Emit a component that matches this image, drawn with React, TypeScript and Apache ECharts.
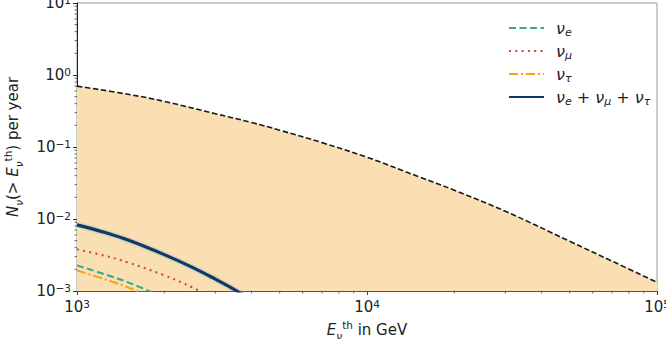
import React, { useEffect, useRef } from "react";
import * as echarts from "echarts";

// ---- data ----
const E_UPPER = [1000, 1500, 2000, 3000, 4000, 5000, 7000, 10000, 15000, 20000, 30000, 50000, 70000, 100000];
const N_UPPER = [0.70, 0.54, 0.43, 0.29, 0.219, 0.171, 0.115, 0.072, 0.039, 0.0251, 0.0128, 0.0049, 0.0026, 0.00132];

const E_NUE = [1000, 1250, 1500, 2000];
const N_NUE = [0.00227, 0.0017, 0.00132, 0.00081];

const E_NUMU = [1000, 1250, 1500, 2000, 2500, 3000];
const N_NUMU = [0.0038, 0.00308, 0.00249, 0.00165, 0.00112, 0.00078];

const E_NUTAU = [1000, 1250, 1500, 2000];
const N_NUTAU = [0.00193, 0.00145, 0.00112, 0.00072];

const E_SUM = [1000, 1250, 1500, 2000, 2500, 3000, 3500, 4000];
const N_SUM = [0.0083, 0.0065, 0.0051, 0.0032, 0.00213, 0.00146, 0.00104, 0.00075];

const SERIES_NAMES = ["νe", "νμ", "ντ", "νe + νμ + ντ"];
const LEGEND_RICH: Record<string, string> = {
  "νe": "{g|ν}{s|e}",
  "νμ": "{g|ν}{s|μ}",
  "ντ": "{g|ν}{s|τ}",
  "νe + νμ + ντ": "{g|ν}{s|e}{p| + }{g|ν}{s|μ}{p| + }{g|ν}{s|τ}",
};

const X_MIN = 1000;
const X_MAX = 100000;
const Y_MIN = 0.001;
const Y_MAX = 10;
const X_MINOR = [2, 3, 4, 5, 6, 7, 8, 9, 20, 30, 40, 50, 60, 70, 80, 90].map((m) => m * 1000);
const Y_MINOR: number[] = [];
[0.001, 0.01, 0.1, 1].forEach((d) => {
  for (let m = 2; m <= 9; m++) Y_MINOR.push(+(m * d).toPrecision(3));
});

const FONT = "DejaVu Sans";

const pairs = (xs: number[], ys: number[]) => xs.map((x, i) => [x, ys[i]]);

const expLabel = (v: number) => {
  const e = Math.round(Math.log10(v));
  return `{b|10}{e|${e < 0 ? "\u2212" + -e : e}}`;
};

const tickRich = {
  b: { fontSize: 15, fontFamily: FONT, color: "#222", lineHeight: 18, verticalAlign: "middle" },
  e: { fontSize: 10.5, fontFamily: FONT, color: "#222", lineHeight: 10, verticalAlign: "top" },
};

const mathRich = {
  i: { fontSize: 15, fontFamily: FONT, fontStyle: "italic", color: "#222", lineHeight: 22, verticalAlign: "middle" },
  r: { fontSize: 15, fontFamily: FONT, color: "#222", lineHeight: 22, verticalAlign: "middle" },
  s: { fontSize: 10.5, fontFamily: FONT, fontStyle: "italic", color: "#222", lineHeight: 11, verticalAlign: "bottom" },
  t: { fontSize: 10.5, fontFamily: FONT, color: "#222", lineHeight: 11, verticalAlign: "top" },
};

const lineSeries = (name: string, xs: number[], ys: number[], color: string, lineStyle: any, z: number) => ({
  name,
  type: "line",
  data: pairs(xs, ys),
  smooth: 0.4,
  symbol: "none",
  itemStyle: { color },
  lineStyle: { color, ...lineStyle },
  z,
});

export default function App() {
  const ref = useRef<HTMLDivElement>(null);

  useEffect(() => {
    if (!ref.current) return;
    const chart = echarts.init(ref.current, undefined, { renderer: "svg" });

    const tickSeries = (data: number[][], dir: "x" | "y") => ({
      type: "custom",
      silent: true,
      clip: false,
      z: 10,
      data,
      renderItem: (_p: any, api: any) => {
        const pt = api.coord([api.value(0), api.value(1)]);
        const shape =
          dir === "x"
            ? { x1: pt[0], y1: pt[1], x2: pt[0], y2: pt[1] + 2.5 }
            : { x1: pt[0], y1: pt[1], x2: pt[0] - 2.5, y2: pt[1] };
        return { type: "line", shape, style: { stroke: "#444", lineWidth: 0.8 } };
      },
    });

    chart.setOption({
      animation: false,
      backgroundColor: "#fff",
      textStyle: { fontFamily: FONT },
      grid: {
        left: 77,
        top: 3,
        width: 580,
        height: 288,
        containLabel: false,
        outerBoundsMode: "none",
        show: true,
        borderColor: "#999",
        borderWidth: 1,
        backgroundColor: "transparent",
      },
      legend: {
        data: SERIES_NAMES,
        orient: "vertical",
        left: 503,
        top: 15,
        itemWidth: 35,
        itemHeight: 14,
        itemGap: 5,
        itemStyle: { opacity: 0 },
        formatter: (n: string) => LEGEND_RICH[n] || n,
        textStyle: {
          padding: [0, 0, 0, 7],
          rich: {
            g: { fontSize: 16, fontFamily: FONT, fontStyle: "italic", color: "#222", lineHeight: 20, verticalAlign: "middle" },
            s: { fontSize: 11, fontFamily: FONT, fontStyle: "italic", color: "#222", lineHeight: 11, verticalAlign: "bottom" },
            p: { fontSize: 16, fontFamily: FONT, color: "#222", lineHeight: 20, verticalAlign: "middle" },
          },
        },
      },
      xAxis: {
        type: "log",
        logBase: 10,
        min: X_MIN,
        max: X_MAX,
        interval: 1,
        splitLine: { show: false },
        axisLine: { show: true, lineStyle: { color: "#555", width: 1 } },
        axisTick: { show: true, inside: false, length: 4, lineStyle: { color: "#444" } },
        axisLabel: {
          formatter: expLabel,
          margin: 7,
          showMinLabel: true,
          showMaxLabel: true,
          hideOverlap: false,
          rich: tickRich,
        },
        name: "{i|E}{s|ν}{t|th}{r| in GeV}",
        nameLocation: "middle",
        nameGap: 25,
        nameTextStyle: { rich: mathRich },
      },
      yAxis: {
        type: "log",
        logBase: 10,
        min: Y_MIN,
        max: Y_MAX,
        interval: 1,
        splitLine: { show: false },
        axisLine: { show: true, lineStyle: { color: "#222", width: 1 } },
        axisTick: { show: true, inside: false, length: 4, lineStyle: { color: "#333" } },
        axisLabel: {
          formatter: expLabel,
          margin: 6,
          showMinLabel: true,
          showMaxLabel: true,
          hideOverlap: false,
          rich: tickRich,
        },
        name: "{i|N}{s|ν}{r|(> }{i|E}{s|ν}{t|th}{r|) per year}",
        nameLocation: "middle",
        nameGap: 53,
        nameTextStyle: { rich: mathRich },
      },
      series: [
        {
          name: "upper",
          type: "line",
          data: pairs(E_UPPER, N_UPPER),
          smooth: 0.4,
          symbol: "none",
          itemStyle: { color: "#1a1a1a" },
          lineStyle: { color: "#1a1a1a", width: 1.6, type: [5.5, 2.6] },
          areaStyle: { color: "#f9dfb1", opacity: 1, origin: "start" },
          z: 2,
        },
        lineSeries("νe", E_NUE, N_NUE, "#34aa8a", { width: 2, type: [7, 3.5] }, 3),
        lineSeries("νμ", E_NUMU, N_NUMU, "#c8463f", { width: 2, type: [2, 4.3] }, 3),
        lineSeries("ντ", E_NUTAU, N_NUTAU, "#f5a11c", { width: 2, type: [9, 3, 2, 3] }, 3),
        lineSeries(
          "νe + νμ + ντ",
          E_SUM,
          N_SUM,
          "#0b3a66",
          { width: 3.2, shadowColor: "rgba(90,140,195,0.7)", shadowBlur: 2.5 },
          4
        ),
        tickSeries(X_MINOR.map((v) => [v, Y_MIN]), "x"),
        tickSeries(Y_MINOR.map((v) => [X_MIN, v]), "y"),
      ],
    });

    return () => chart.dispose();
  }, []);

  return (
    <div
      ref={ref}
      style={{ position: "absolute", left: 0, top: 0, width: 666, height: 339 }}
    />
  );
}
